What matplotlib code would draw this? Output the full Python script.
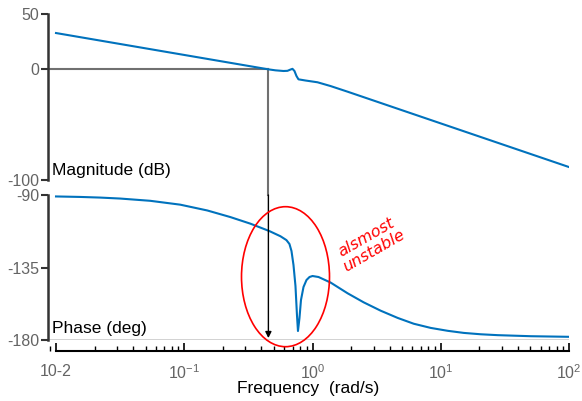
import numpy as np
import matplotlib
matplotlib.use("Agg")
import matplotlib.pyplot as plt
from matplotlib.patches import Ellipse
from matplotlib.ticker import FixedLocator, FixedFormatter, LogLocator, NullFormatter

plt.rcParams['font.family'] = ['Liberation Sans', 'DejaVu Sans']
plt.rcParams['mathtext.fontset'] = 'custom'
plt.rcParams['mathtext.rm'] = 'Liberation Sans'
plt.rcParams['mathtext.it'] = 'Liberation Sans'

# ---- data ----
mag_freq = [0.01, 0.4529, 0.5139, 0.5934, 0.6378, 0.6733, 0.6980, 0.7233, 0.7499,
            0.7772, 0.8817, 1.094, 1.382, 1.877, 100]
mag_db = [32.8, 0.0, -0.9, -1.5, -1.35, -0.2, 0.45, -1.5, -6.05,
          -9.03, -10.1, -11.7, -15.1, -20.2, -88.3]

ph_freq = [0.01, 0.0154, 0.02208, 0.03162, 0.05425, 0.09306, 0.1512, 0.2288, 0.3280,
           0.4613, 0.5623, 0.6262, 0.6611, 0.6856, 0.7107, 0.7365, 0.7565, 0.7702,
           0.7913, 0.8131, 0.8506, 0.8977, 0.9476, 1.0, 1.114, 1.382, 1.877, 2.503,
           3.398, 4.615, 6.153, 8.353, 11.34, 15.12, 20.54, 27.88, 50.48, 100]
ph_deg = [-90.9, -91.2, -91.6, -92.2, -93.6, -96.0, -99.6, -103.7, -107.8,
          -112.4, -115.6, -118.0, -120.42, -124.76, -133.46, -146.49, -164.49, -174.42,
          -166.35, -155.18, -147.11, -142.76, -140.90, -140.28, -140.90, -144.32, -151.0, -156.6,
          -161.8, -166.3, -169.9, -172.5, -174.3, -175.6, -176.45, -177.0, -177.65, -178.02]

crossover_freq = 0.4529
mag_yticks = [50, 0, -100]
ph_yticks = [-90, -135, -180]
x_ticks = [0.01, 0.1, 1, 10, 100]
x_ticklabels = ['10-2', r'$10^{-1}$', r'$10^{0}$', r'$10^{1}$', r'$10^{2}$']
mag_label = 'Magnitude (dB)'
ph_label = 'Phase (deg)'
x_label = 'Frequency  (rad/s)'
note = 'alsmost\nunstable'

# ---- figure ----
W, H = 582, 401
fig = plt.figure(figsize=(W / 100, H / 100), dpi=100)

def rect(x0, y0, x1, y1):
    return [x0 / W, 1 - y1 / H, (x1 - x0) / W, (y1 - y0) / H]

blue = '#0072BD'
gray_txt = '#646464'
xlim = (10 ** (-2 - 8 / 128), 100)

ax1 = fig.add_axes(rect(48, 14, 569, 180))
ax2 = fig.add_axes(rect(48, 195, 569, 340))

for ax in (ax1, ax2):
    ax.set_xscale('log')
    ax.set_xlim(*xlim)
    ax.spines['top'].set_visible(False)
    ax.spines['right'].set_visible(False)
    ax.spines['left'].set_linewidth(1.8)
    ax.spines['left'].set_color('#333333')
    ax.tick_params(axis='y', direction='out', length=5, width=1.5, color='#333333',
                   labelcolor=gray_txt, labelsize=11.5, pad=1.5)
    ax.set_facecolor('none')

# magnitude
ax1.spines['bottom'].set_visible(False)
ax1.tick_params(axis='x', which='both', bottom=False, labelbottom=False)
ax1.set_ylim(-100, 50)
ax1.set_yticks(mag_yticks)
ax1.set_yticklabels([str(v) for v in mag_yticks])
ax1.plot([xlim[0], crossover_freq], [0, 0], color='#707070', lw=1.5, zorder=1)
ax1.plot([crossover_freq, crossover_freq], [0, -113.6], color='#707070', lw=1.5,
         clip_on=False, zorder=1)
ax1.plot(mag_freq, mag_db, color=blue, lw=1.5, zorder=3)
ax1.text(0.008, 0.015, mag_label, transform=ax1.transAxes,
         fontsize=12.5, color='black', ha='left', va='bottom')

# phase
ax2.set_ylim(-180, -90)
ax2.set_yticks(ph_yticks)
ax2.set_yticklabels([str(v) for v in ph_yticks])
ax2.axhline(-180, color='#222222', lw=1.0, zorder=2)
ax2.plot(ph_freq, ph_deg, color=blue, lw=1.5, zorder=3)
ax2.annotate('', xy=(crossover_freq, -178.8), xytext=(crossover_freq, -90),
             arrowprops=dict(arrowstyle='-|>', color='black', lw=1.0,
                             mutation_scale=9, shrinkA=0, shrinkB=0),
             annotation_clip=False, zorder=4)
ax2.text(0.008, 0.03, ph_label, transform=ax2.transAxes,
         fontsize=12.5, color='black', ha='left', va='bottom')

ax2.spines['bottom'].set_position(('outward', 8))
ax2.spines['bottom'].set_bounds(x_ticks[0], x_ticks[-1])
ax2.spines['bottom'].set_linewidth(1.5)
ax2.spines['bottom'].set_color('black')
ax2.xaxis.set_major_locator(FixedLocator(x_ticks))
ax2.xaxis.set_major_formatter(FixedFormatter(x_ticklabels))
ax2.xaxis.set_minor_locator(LogLocator(base=10, subs=np.arange(2, 10)))
ax2.xaxis.set_minor_formatter(NullFormatter())
ax2.tick_params(axis='x', which='major', direction='in', length=6, width=1.2,
                color='black', labelcolor=gray_txt, labelsize=11.5, pad=9)
ax2.tick_params(axis='x', which='minor', direction='in', length=3.5, width=1.0,
                color='black')
ax2.set_xlabel(x_label, fontsize=12.5, color='black', labelpad=-1)

# annotation: red ellipse and note (in pixel-derived figure coords)
ell = Ellipse((285.5 / W, 1 - 276.7 / H), 88 / W, 140 / H, angle=0,
              transform=fig.transFigure, fill=False, edgecolor='red', lw=1.2)
fig.add_artist(ell)
fig.text(370 / W, 1 - 244 / H, note, color='red', fontsize=11.5, style='italic',
         rotation=30, ha='center', va='center', linespacing=1.0,
         family=['DejaVu Sans'])

fig.savefig('out.png', dpi=100)
